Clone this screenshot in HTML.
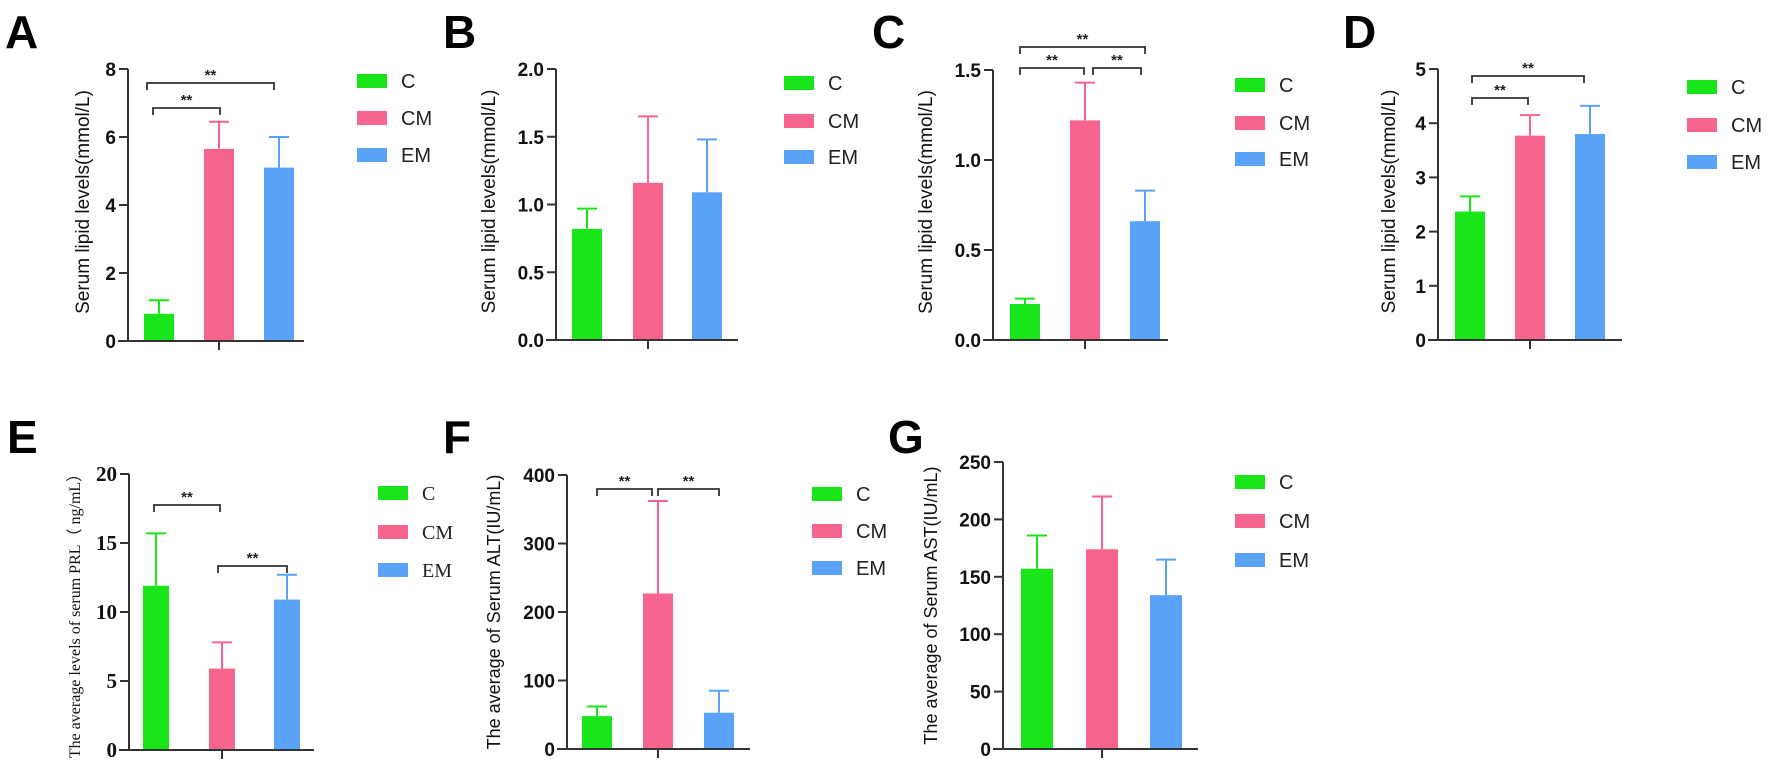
<!DOCTYPE html>
<html><head><meta charset="utf-8"><style>
html,body{margin:0;padding:0;background:#fff;}
svg{display:block;}
</style></head><body>
<svg id="fig" width="1772" height="774" viewBox="0 0 1772 774" xmlns="http://www.w3.org/2000/svg"></svg>
<script>
const groups = ["C","CM","EM"];
const aMeans=[0.8,5.65,5.1];  const aErr=[0.4,0.8,0.9];   const aTicks=[0,2,4,6,8];
const bMeans=[0.82,1.16,1.09];const bErr=[0.15,0.49,0.39];const bTicks=[0,0.5,1.0,1.5,2.0];
const cMeans=[0.2,1.22,0.66]; const cErr=[0.03,0.21,0.17];const cTicks=[0,0.5,1.0,1.5];
const dMeans=[2.37,3.77,3.8]; const dErr=[0.28,0.38,0.52];const dTicks=[0,1,2,3,4,5];
const eMeans=[11.9,5.9,10.9]; const eErr=[3.8,1.9,1.8];   const eTicks=[0,5,10,15,20];
const fMeans=[48,227,53];     const fErr=[14,135,32];     const fTicks=[0,100,200,300,400];
const gMeans=[157,174,134];   const gErr=[29,46,31];      const gTicks=[0,50,100,150,200,250];
const colors=["#19e619","#f7648e","#5aa2f7"];
const NS="http://www.w3.org/2000/svg";
const svg=document.getElementById('fig');
const SANS='"Liberation Sans",sans-serif', SERIF='"Liberation Serif",serif';
function mk(tag,attrs,parent,txt){const e=document.createElementNS(NS,tag);for(const k in attrs)e.setAttribute(k,attrs[k]);if(txt!==undefined)e.textContent=txt;(parent||svg).appendChild(e);return e;}
function panel(p){
  const g=mk('g',{});
  
  
  const lab=mk('text',{x:p.lx,y:p.ly,'font-size':46,'font-weight':'bold',fill:'#000',style:'font-family:'+SANS},g,p.id);
  
  
  const max=p.ticks[p.ticks.length-1];
  const y=v=>p.y0-(v/max)*(p.y0-p.yTop);
  const x=i=>p.bx[i];
  const ff=p.serif?SERIF:SANS;
  for(let i=0;i<3;i++){
    const r=mk('rect',{x:x(i)-p.bw/2,y:y(p.means[i]),width:p.bw,height:p.y0-y(p.means[i]),fill:colors[i]},g);
    
    
    const top=y(p.means[i]+p.err[i]);
    const eb=mk('path',{d:`M${x(i)},${y(p.means[i])}V${top}M${x(i)-10},${top}H${x(i)+10}`,stroke:colors[i],'stroke-width':2,fill:'none'},g);
    
    
  }
  const ax=mk('path',{d:`M${p.ax},${p.yTop}V${p.y0}M${p.ax-10},${p.y0}H${p.axEnd}M${x(1)},${p.y0}V${p.y0+9}`,stroke:'#333','stroke-width':2,fill:'none'},g);
  
  
  p.ticks.forEach(t=>{
    const tk=mk('path',{d:`M${p.ax-9},${y(t)}H${p.ax}`,stroke:'#333','stroke-width':2},g);
    
    
    const tl=mk('text',{x:p.ax-12,y:y(t)+7,'text-anchor':'end','font-size':p.serif?21:19,'font-weight':'bold',fill:'#111',style:'font-family:'+ff},g,t.toFixed(p.dec));
    
    
  });
  const cy=(p.yTop+p.y0)/2+p.tdy;
  const yt=mk('text',{x:p.tx,y:cy,transform:`rotate(-90 ${p.tx} ${cy})`,'text-anchor':'middle','font-size':p.tfs,fill:'#111',style:'font-family:'+ff},g,p.title);
  
  
  (p.br||[]).forEach(b=>{
    const bp=mk('path',{d:`M${b[0]},${b[2]+7}V${b[2]}H${b[1]}V${b[2]+7}`,stroke:'#333','stroke-width':1.8,fill:'none'},g);
    
    
    const st=mk('text',{x:(b[0]+b[1])/2,y:b[2]-3,'text-anchor':'middle','font-size':15,'font-weight':'bold',fill:'#222',style:'font-family:'+SANS},g,'**');
    
    
  });
  for(let i=0;i<3;i++){
    const ly=p.legY[i];
    const sw=mk('rect',{x:p.legX,y:ly-7,width:30,height:14,fill:colors[i]},g);
    
    
    const lt=mk('text',{x:p.legX+44,y:ly+7,'font-size':20,fill:'#222',style:'font-family:'+(p.legSerif?SERIF:SANS)},g,groups[i]);
    
    
  }
}
panel({id:'A',lx:5,ly:48,means:aMeans,err:aErr,ticks:aTicks,dec:0,ax:128,axEnd:304,y0:341,yTop:69,bx:[159,219,279],bw:30,tx:89,tfs:19,tdy:-3,title:'Serum lipid levels(mmol/L)',br:[[147,274,83],[153,220,108]],legX:357,legY:[81,118,155]});
panel({id:'B',lx:443,ly:48,means:bMeans,err:bErr,ticks:bTicks,dec:1,ax:556,axEnd:738,y0:340,yTop:69,bx:[587,648,707],bw:30,tx:495,tfs:19,tdy:-3,title:'Serum lipid levels(mmol/L)',legX:784,legY:[83,121,157]});
panel({id:'C',lx:872,ly:48,means:cMeans,err:cErr,ticks:cTicks,dec:1,ax:993,axEnd:1168,y0:340,yTop:70,bx:[1025,1085,1145],bw:30,tx:932,tfs:19,tdy:-3,title:'Serum lipid levels(mmol/L)',br:[[1020,1145,47],[1020,1084,68],[1093,1141,68]],legX:1235,legY:[85,123,159]});
panel({id:'D',lx:1343,ly:48,means:dMeans,err:dErr,ticks:dTicks,dec:0,ax:1438,axEnd:1622,y0:340,yTop:69,bx:[1470,1530,1590],bw:30,tx:1395,tfs:19,tdy:-3,title:'Serum lipid levels(mmol/L)',br:[[1472,1584,76],[1472,1528,98]],legX:1687,legY:[87,125,162]});
panel({id:'E',lx:7,ly:453,means:eMeans,err:eErr,ticks:eTicks,dec:0,ax:129,axEnd:314,y0:750,yTop:474,bx:[156,222,287],bw:26,tx:80,tfs:16,tdy:0,serif:true,legSerif:true,title:'The average levels of serum PRL\uff08 ng/mL\uff09',br:[[154,220,505],[218,287,566]],legX:378,legY:[493,532,570]});
panel({id:'F',lx:443,ly:453,means:fMeans,err:fErr,ticks:fTicks,dec:0,ax:567,axEnd:750,y0:749,yTop:475,bx:[597,658,719],bw:30,tx:500,tfs:18,tdy:0,title:'The average of Serum ALT(IU/mL)',br:[[597,652,489],[658,719,489]],legX:812,legY:[494,531,568]});
panel({id:'G',lx:888,ly:453,means:gMeans,err:gErr,ticks:gTicks,dec:0,ax:1003,axEnd:1198,y0:749,yTop:462,bx:[1037,1102,1166],bw:32,tx:937,tfs:18,tdy:0,title:'The average of Serum AST(IU/mL)',legX:1235,legY:[482,521,560]});
</script>
</body></html>
